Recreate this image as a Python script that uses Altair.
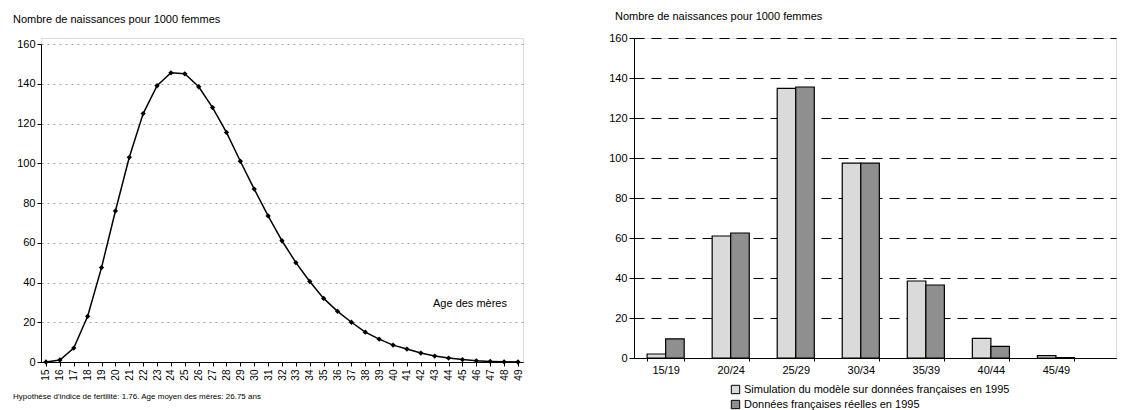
import altair as alt
import pandas as pd

# Left chart data
ages = list(range(15, 50))
rates = [0, 1, 7, 23, 47.5, 76, 103, 125, 139, 145.5, 145, 138.5, 128, 115.5, 101,
         87, 73.5, 61, 50, 40.5, 32, 25.5, 20, 15, 11.5, 8.5, 6.5, 4.5, 3, 2,
         1.2, 0.6, 0.3, 0.1, 0]

# Right chart data
groups = ["15/19", "20/24", "25/29", "30/34", "35/39", "40/44", "45/49"]
sim_vals = [2, 61, 134.8, 97.4, 38.5, 9.8, 1.2]
real_vals = [9.6, 62.5, 135.5, 97.4, 36.5, 5.8, 0.2]
series = ["Simulation du modèle sur données françaises en 1995",
          "Données françaises réelles en 1995"]

FONT = "Liberation Sans"
TITLE = "Nombre de naissances pour 1000 femmes"

df_left = pd.DataFrame({"age": [str(a) for a in ages], "rate": rates})

rows = []
for g, s, r in zip(groups, sim_vals, real_vals):
    rows.append({"groupe": g, "serie": series[0], "val": s})
    rows.append({"groupe": g, "serie": series[1], "val": r})
df_right = pd.DataFrame(rows)

LW, LH = 482, 324
RW, RH = 482, 320

x_left = alt.X("age:O", sort=[str(a) for a in ages],
               scale=alt.Scale(type="point", padding=0.36),
               axis=alt.Axis(title=None, labelAngle=-90, labelFontSize=10, labelFont=FONT,
                             labelColor="black", domainColor="black", tickColor="black",
                             labelBaseline="middle", labelAlign="right", labelPadding=3,
                             tickSize=4))
y_left = alt.Y("rate:Q", scale=alt.Scale(domain=[0, 160], range=[LH, 6]),
               axis=alt.Axis(title=None, values=list(range(0, 161, 20)), labelFontSize=11,
                             labelFont=FONT, labelColor="black", domainColor="black",
                             tickColor="black", tickSize=4, gridColor="#8a8a8a",
                             gridDash=[2, 4], gridWidth=0.8))

line = alt.Chart(df_left).mark_line(
    color="black", strokeWidth=1.5,
    point=alt.OverlayMarkDef(shape="diamond", size=28, filled=True, color="black")
).encode(x=x_left, y=y_left)

annot = alt.Chart(pd.DataFrame({"t": ["Age des mères"]})).mark_text(
    font=FONT, fontSize=11, align="left", baseline="middle", color="black"
).encode(text="t:N", x=alt.value(392), y=alt.value(266))

foot = alt.Chart(pd.DataFrame({"t": ["Hypothèse d'indice de fertilité: 1.76. Age moyen des mères: 26.75 ans"]})).mark_text(
    font=FONT, fontSize=8, align="left", baseline="middle", color="black"
).encode(text="t:N", x=alt.value(-28), y=alt.value(359))

left = alt.layer(line, annot, foot).properties(
    width=LW, height=LH,
    title=alt.TitleParams(TITLE, anchor="start", frame="group", dx=-28, offset=13,
                          fontSize=11, font=FONT, fontWeight="normal", color="black")
)

bars = alt.Chart(df_right).mark_bar(stroke="black", strokeWidth=1.2).encode(
    x=alt.X("groupe:N", sort=groups,
            scale=alt.Scale(paddingInner=0.43, paddingOuter=0.42, align=0.24),
            axis=alt.Axis(title=None, labelAngle=0, labelFontSize=11, labelFont=FONT,
                          labelColor="black", domainColor="black", tickColor="black",
                          tickBand="extent", labelPadding=3, tickSize=3)),
    xOffset=alt.XOffset("serie:N", sort=series),
    y=alt.Y("val:Q", scale=alt.Scale(domain=[0, 160]),
            axis=alt.Axis(title=None, values=list(range(0, 161, 20)), labelFontSize=11,
                          labelFont=FONT, labelColor="black", domainColor="black",
                          tickColor="black", tickSize=5, gridColor="black",
                          gridDash=[10, 7], gridWidth=1.2)),
    fill=alt.Fill("serie:N", sort=series,
                  scale=alt.Scale(domain=series, range=["#dadada", "#8f8f8f"]),
                  legend=alt.Legend(title=None, orient="none", legendX=689, legendY=346,
                                    symbolType="square", symbolSize=70,
                                    symbolStrokeColor="black", symbolStrokeWidth=1,
                                    labelFont=FONT, labelFontSize=11, labelColor="black",
                                    rowPadding=2, labelLimit=400, labelOffset=3)),
)

right = bars.properties(
    width=RW, height=RH,
    title=alt.TitleParams(TITLE, anchor="start", frame="group", dx=-19, offset=10,
                          fontSize=11, font=FONT, fontWeight="normal", color="black")
)

chart = alt.hconcat(left, right, spacing=84).configure_view(stroke=None).configure(
    padding={"left": 4, "top": 2, "right": 0, "bottom": 0}
)

chart.save("out.html", embed_options={"renderer": "svg", "actions": False})
